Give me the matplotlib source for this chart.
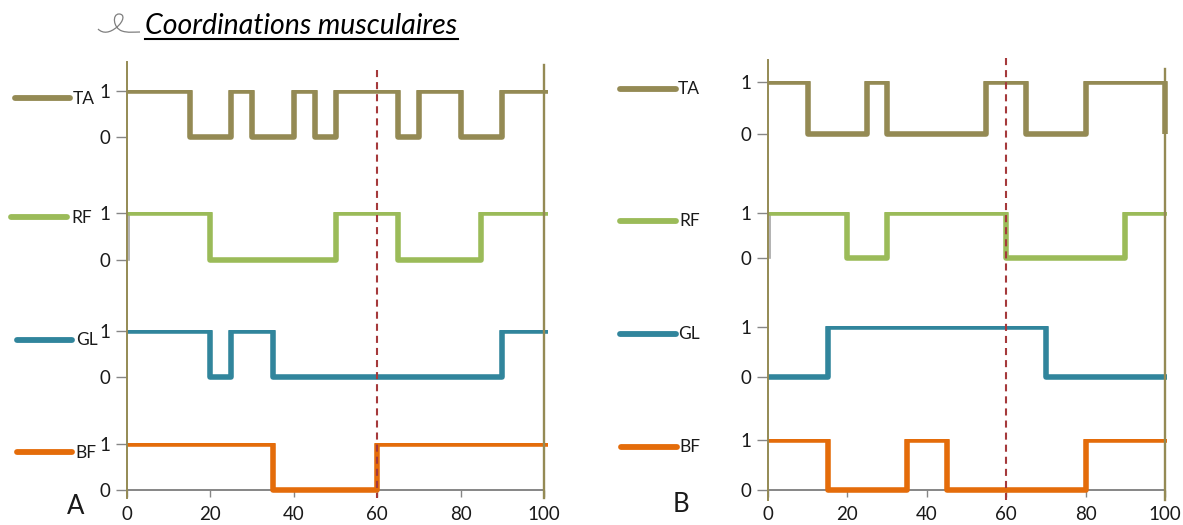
import matplotlib
matplotlib.use("Agg")
import matplotlib.pyplot as plt
from matplotlib.patches import PathPatch, Rectangle
from matplotlib.path import Path
import numpy as np

W, H = 1183, 525

plt.rcParams["font.family"] = ["Lato", "DejaVu Sans"]

# on/off phases, % of the cycle (traces in A run slightly past 100)
A_TA_EDGES = [0, 15, 25, 30, 40, 45, 50, 65, 70, 80, 90, 101]
A_TA_LEVELS = [1, 0, 1, 0, 1, 0, 1, 0, 1, 0, 1]
A_RF_EDGES = [0, 20, 50, 65, 85, 101]
A_RF_LEVELS = [1, 0, 1, 0, 1]
A_GL_EDGES = [0, 20, 25, 35, 90, 101]
A_GL_LEVELS = [1, 0, 1, 0, 1]
A_BF_EDGES = [0, 35, 60, 101]
A_BF_LEVELS = [1, 0, 1]

B_TA_EDGES = [0, 10, 25, 30, 55, 65, 80, 100, 100]
B_TA_LEVELS = [1, 0, 1, 0, 1, 0, 1, 0]
B_RF_EDGES = [0, 20, 30, 60, 90, 100.5]
B_RF_LEVELS = [1, 0, 1, 0, 1]
B_GL_EDGES = [0, 15, 70, 100.5]
B_GL_LEVELS = [0, 1, 0]
B_BF_EDGES = [0, 15, 35, 45, 80, 100.5]
B_BF_LEVELS = [1, 0, 1, 0, 1]

MUSCLES = ["TA", "RF", "GL", "BF"]
X_TICKS = [0, 20, 40, 60, 80, 100]
Y_TICKS = [0, 1]
MARKER_X = 60

COLORS = {"TA": "#948A54", "RF": "#9BBB59", "GL": "#31859C", "BF": "#E46C0A"}
OLIVE = "#948A54"
GRAY = "#868686"
DASH_RED = "#A5393B"
TEXT = "#1a1a1a"

# layout, in picture pixels
PANEL_A = {
    "x0": 127, "x100": 544, "top": 62, "bottom": 498,
    "right_top": 65, "dash_top": 70, "letter": ("A", 76, 506),
    "rows": {"TA": (91, 137), "RF": (213, 260), "GL": (331, 377), "BF": (444, 490)},
    "swatch": {"TA": (15, 70, 98, 73, 99), "RF": (11, 67, 217, 71, 218),
               "GL": (17, 72, 340, 76, 340), "BF": (17, 72, 452, 75, 453)},
}
PANEL_B = {
    "x0": 768, "x100": 1165, "top": 60, "bottom": 500,
    "right_top": 69, "dash_top": 58, "letter": ("B", 681, 505),
    "rows": {"TA": (82, 134), "RF": (213, 258), "GL": (327, 377), "BF": (440, 490)},
    "swatch": {"TA": (620, 676, 89, 678, 89), "RF": (620, 676, 221, 679, 221),
               "GL": (620, 676, 334, 678, 334), "BF": (621, 677, 447, 679, 447)},
}
SERIES_A = {"TA": (A_TA_EDGES, A_TA_LEVELS), "RF": (A_RF_EDGES, A_RF_LEVELS),
            "GL": (A_GL_EDGES, A_GL_LEVELS), "BF": (A_BF_EDGES, A_BF_LEVELS)}
SERIES_B = {"TA": (B_TA_EDGES, B_TA_LEVELS), "RF": (B_RF_EDGES, B_RF_LEVELS),
            "GL": (B_GL_EDGES, B_GL_LEVELS), "BF": (B_BF_EDGES, B_BF_LEVELS)}


def px_axes(fig, left, top, right, bottom, **kw):
    return fig.add_axes([left / W, 1 - bottom / H, (right - left) / W, (bottom - top) / H], **kw)


def draw_row(fig, panel, name, edges, levels):
    y1, y0 = panel["rows"][name]
    ax = px_axes(fig, panel["x0"], y1, panel["x100"], y0, facecolor="none", zorder=2)
    ax.set_xlim(0, 100)
    ax.set_ylim(0, 1)
    for s in ax.spines.values():
        s.set_visible(False)

    # the trace is cut by the top of its small chart, so level 1 looks thinner
    line = ax.stairs(levels, edges, baseline=None, color=COLORS[name], lw=4.0, zorder=3)
    line.set_joinstyle("round")
    line.set_clip_path(Rectangle((-1, -1), 103, 2.015, transform=ax.transData))

    ax.set_yticks(Y_TICKS)
    ax.set_yticklabels(["0", "1"])
    ax.tick_params(axis="y", length=8, width=1, color=GRAY, labelsize=13.5, labelcolor=TEXT, pad=4)

    if name == "BF":
        ax.spines["bottom"].set_visible(True)
        ax.spines["bottom"].set_color(GRAY)
        ax.spines["bottom"].set_linewidth(1.4)
        ax.set_xticks(X_TICKS)
        ax.tick_params(axis="x", length=5, width=1, color=GRAY, labelsize=13.5, labelcolor=TEXT, pad=6.5)
    else:
        ax.set_xticks([])

    if name == "RF":
        ax.plot([0.4, 0.4], [0, 1], color="#a6a6a6", lw=1.2, zorder=2, clip_on=False)


def draw_frame(fig, panel):
    # olive side lines and the dashed marker run through all four rows
    ax = px_axes(fig, panel["x0"], panel["top"], panel["x100"], panel["bottom"],
                 facecolor="none", zorder=3)
    ax.set_xlim(0, 100)
    ax.set_ylim(panel["bottom"], panel["top"])
    ax.set_xticks([])
    ax.set_yticks([])
    for s in ax.spines.values():
        s.set_visible(False)
    ax.plot([0, 0], [panel["top"], panel["bottom"]], color=OLIVE, lw=1.4, clip_on=False)
    ax.plot([100, 100], [panel["right_top"], panel["bottom"]], color=OLIVE, lw=1.7, clip_on=False)
    ax.plot([MARKER_X, MARKER_X], [panel["dash_top"], panel["bottom"]], color=DASH_RED,
            lw=1.5, dashes=(3.4, 2.4), clip_on=False)


def draw_panel(fig, overlay, panel, series):
    for name in MUSCLES:
        edges, levels = series[name]
        draw_row(fig, panel, name, edges, levels)
        x1, x2, y, tx, ty = panel["swatch"][name]
        overlay.plot([x1, x2], [y, y], color=COLORS[name], lw=4.2, solid_capstyle="round")
        overlay.text(tx, ty, name, fontsize=12.5, color=TEXT, ha="left", va="center")
    draw_frame(fig, panel)
    letter, lx, ly = panel["letter"]
    overlay.text(lx, ly, letter, fontsize=18.5, color=TEXT, ha="center", va="center")


def main():
    fig = plt.figure(figsize=(W / 100, H / 100), dpi=100, facecolor="white")

    overlay = px_axes(fig, 0, 0, W, H, facecolor="none", zorder=1)
    overlay.set_xlim(0, W)
    overlay.set_ylim(H, 0)
    overlay.axis("off")

    # title with its small pen flourish
    overlay.text(145, 26, "Coordinations musculaires", fontsize=20.5, style="italic",
                 color="black", ha="left", va="center")
    overlay.plot([145, 458], [39, 39], color="black", lw=1.5)
    swirl = Path(
        np.array([[98, 29], [103, 34], [110, 33], [117, 27],
                  [124, 21], [125, 14], [119, 14],
                  [112, 14], [113, 28], [122, 31],
                  [128, 33], [134, 32], [140, 32]], dtype=float),
        [Path.MOVETO] + [Path.CURVE4] * 12,
    )
    overlay.add_patch(PathPatch(swirl, fc="none", ec="#7f7f7f", lw=0.9))

    draw_panel(fig, overlay, PANEL_A, SERIES_A)
    draw_panel(fig, overlay, PANEL_B, SERIES_B)

    fig.savefig("out.png", dpi=100)
    plt.close(fig)


if __name__ == "__main__":
    main()
